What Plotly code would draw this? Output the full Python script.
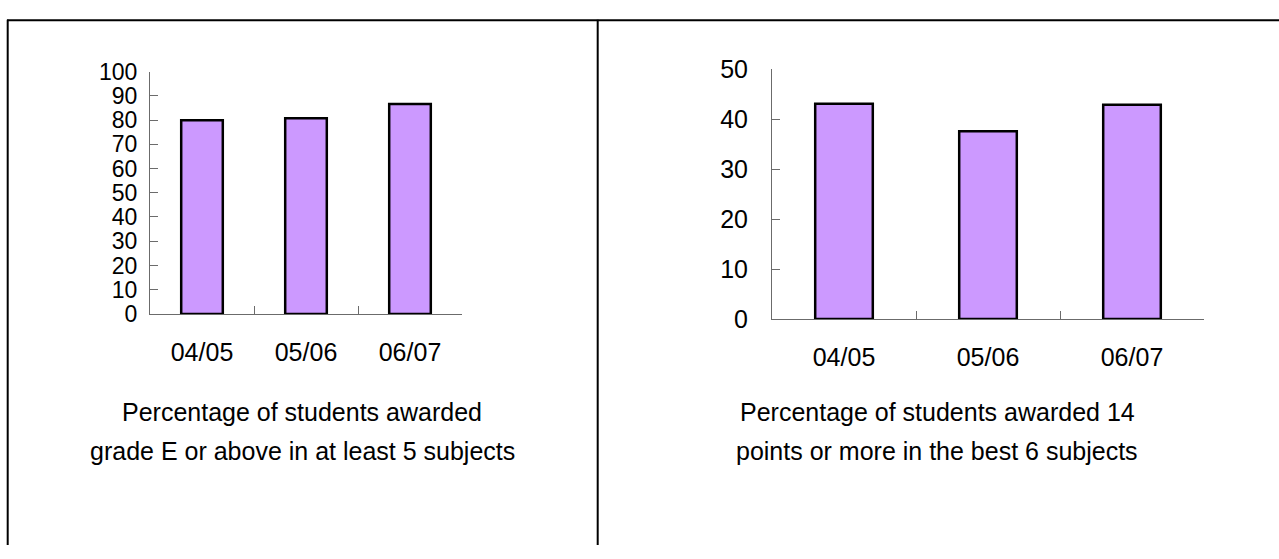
import plotly.graph_objects as go

# School years on the category axis
years = ["04/05", "05/06", "06/07"]

# Percentage of students awarded grade E or above in at least 5 subjects
pct_grade_e = [79.9, 80.8, 86.7]

# Percentage of students awarded 14 points or more in the best 6 subjects
pct_14_points = [43.1, 37.6, 42.9]

caption_left = ["Percentage of students awarded",
                "grade E or above in at least 5 subjects"]
caption_right = ["Percentage of students awarded 14",
                 "points or more in the best 6 subjects"]

W, H = 1279, 559
FONT = "Liberation Sans, Arial, sans-serif"
BAR_FILL = "#CC99FF"
AXIS_GREY = "#6b6b6b"


def px_x(p):
    return p / W


def px_y(p):
    return 1 - p / H


fig = go.Figure()

fig.add_trace(go.Bar(x=years, y=pct_grade_e, width=0.4,
                     marker=dict(color=BAR_FILL, line=dict(color="black", width=2.5)),
                     xaxis="x", yaxis="y", showlegend=False, hoverinfo="x+y"))
fig.add_trace(go.Bar(x=years, y=pct_14_points, width=0.4,
                     marker=dict(color=BAR_FILL, line=dict(color="black", width=2.5)),
                     xaxis="x2", yaxis="y2", showlegend=False, hoverinfo="x+y"))

common_x = dict(type="category", showgrid=False, zeroline=False, showline=True,
                linecolor=AXIS_GREY, linewidth=1, ticks="inside", ticklen=8,
                tickcolor=AXIS_GREY, tickwidth=1, tickson="boundaries",
                tickfont=dict(family=FONT, size=25, color="black"),
                ticklabelstandoff=16, fixedrange=True)
common_y = dict(showgrid=False, zeroline=False, showline=True, linecolor=AXIS_GREY,
                linewidth=1, ticks="inside", ticklen=8, tickcolor=AXIS_GREY,
                tickwidth=1, dtick=10, tick0=0, fixedrange=True)

fig.update_layout(
    width=W, height=H,
    margin=dict(l=0, r=0, t=0, b=0),
    paper_bgcolor="white", plot_bgcolor="white",
    bargap=0.6,
    xaxis=dict(common_x, domain=[px_x(150), px_x(462)], anchor="y"),
    yaxis=dict(common_y, domain=[px_y(315.7), px_y(60.7)], range=[0, 100],
               anchor="x", tickfont=dict(family=FONT, size=23, color="black"),
               ticklabelstandoff=7),
    xaxis2=dict(common_x, domain=[px_x(772), px_x(1204)], anchor="y2"),
    yaxis2=dict(common_y, domain=[px_y(321), px_y(58.3)], range=[0, 50],
                anchor="x2", tickfont=dict(family=FONT, size=25, color="black"),
                ticklabelstandoff=18),
)

# Table frame: top rule, left rule and the column divider
frame = [
    (7, 6.7, W, 6.7),
    (7.7, 6, 7.7, H),
    (597.7, 6, 597.7, H),
]
for x0, y0, x1, y1 in frame:
    fig.add_shape(type="line", xref="paper", yref="paper",
                  x0=px_x(x0), y0=px_y(y0), x1=px_x(x1), y1=px_y(y1),
                  line=dict(color="black", width=2))

# Two-line captions under each chart
for cx, lines in ((302, caption_left), (937, caption_right)):
    for cy, txt in zip((419, 460), lines):
        fig.add_annotation(x=px_x(cx), y=px_y(cy), xref="paper", yref="paper",
                           text=txt, showarrow=False, xanchor="center",
                           yanchor="middle",
                           font=dict(family=FONT, size=25, color="black"))

# Let the figure sit flush with the page edges
fig.write_html("out.html", config={"displayModeBar": False},
               post_script="document.body.style.margin='0px';"
                           "document.body.style.overflow='hidden';")
